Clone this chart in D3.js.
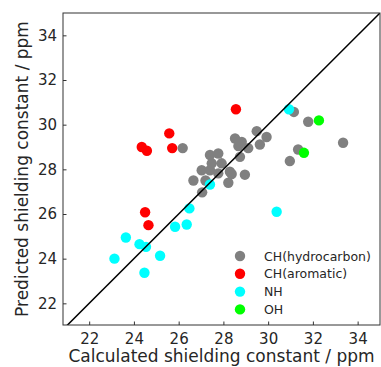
<!DOCTYPE html>
<html><head><meta charset="utf-8">
<script src="https://cdn.jsdelivr.net/npm/d3@7"></script>
<style>body{margin:0;background:#fff}svg{display:block}text{font-family:"DejaVu Sans",sans-serif;fill:#262626}</style>
</head><body>
<svg id="c" width="381" height="367"></svg>
<script>
const xTicks = [22, 24, 26, 28, 30, 32, 34];
const yTicks = [22, 24, 26, 28, 30, 32, 34];
const seriesNames = ["CH(hydrocarbon)", "CH(aromatic)", "NH", "OH"];
const seriesColors = ["#808080", "#ff0000", "#00ffff", "#00ff00"];
const hydrocarbon = [[26.18,28.95],[31.15,30.57],[31.79,30.13],[33.35,29.19],[31.34,28.89],[30.97,28.37],[29.49,29.71],[29.93,29.45],[29.63,29.11],[28.52,29.38],[28.82,29.23],[28.67,29.04],[29.11,28.95],[27.4,28.64],[27.77,28.71],[27.48,28.27],[27.92,28.27],[27.03,27.96],[27.4,27.96],[28.29,27.89],[28.96,27.76],[27.77,27.82],[26.66,27.5],[27.2,27.5],[28.22,27.4],[27.05,26.97],[28.37,27.79],[28.74,28.56]];
const aromatic = [[25.58,29.61],[24.35,29.0],[24.58,28.83],[25.71,28.95],[28.56,30.69],[24.5,26.08],[24.65,25.5]];
const nh = [[30.93,30.69],[27.4,27.32],[26.48,26.25],[25.84,25.43],[26.36,25.53],[23.64,24.95],[24.25,24.65],[24.54,24.53],[25.17,24.13],[23.13,24.0],[24.47,23.37],[30.38,26.1]];
const oh = [[32.27,30.19],[31.6,28.74]];
const series = [hydrocarbon, aromatic, nh, oh];

const svg = d3.select("#c");
const L = 63, R = 380, T = 13, B = 325;
const x = d3.scaleLinear().domain([20.83, 35]).range([L, R]);
const y = d3.scaleLinear().domain([21.03, 35]).range([B, T]);

svg.append("defs").append("clipPath").attr("id","clip").append("rect")
  .attr("x",L).attr("y",T).attr("width",R-L).attr("height",B-T);

const plot = svg.append("g").attr("clip-path","url(#clip)");
series.forEach((s,i)=>{
  plot.selectAll(null).data(s).enter().append("circle")
    .attr("cx",d=>x(d[0])).attr("cy",d=>y(d[1])).attr("r",5.2)
    .attr("fill",seriesColors[i]);
});
plot.append("line").attr("x1",x(20)).attr("y1",y(20)).attr("x2",x(36)).attr("y2",y(36))
  .attr("stroke","#000").attr("stroke-width",1.5);

const xa = svg.append("g").attr("transform",`translate(0,${B})`)
  .call(d3.axisBottom(x).tickValues(xTicks).tickSizeInner(-3.5).tickSizeOuter(0).tickPadding(8));
const ya = svg.append("g").attr("transform",`translate(${L},0)`)
  .call(d3.axisLeft(y).tickValues(yTicks).tickSizeInner(-3.5).tickSizeOuter(0).tickPadding(6));
[xa,ya].forEach(a=>{a.select(".domain").remove();a.selectAll("text").attr("font-size",15).attr("fill","#262626").attr("font-family","DejaVu Sans");a.selectAll("line").attr("stroke","#333")});

svg.append("rect").attr("x",L).attr("y",T).attr("width",R-L).attr("height",B-T)
  .attr("fill","none").attr("stroke","#333").attr("stroke-width",1);

svg.append("text").attr("x",(L+R)/2).attr("y",362).attr("text-anchor","middle")
  .attr("font-size",17).text("Calculated shielding constant / ppm");
svg.append("text").attr("transform",`translate(28,${(T+B)/2}) rotate(-90)`).attr("text-anchor","middle")
  .attr("font-size",17).text("Predicted shielding constant / ppm");

const lg = svg.append("g");
seriesNames.forEach((n,i)=>{
  const yy = 256 + i*17.8;
  lg.append("circle").attr("cx",240).attr("cy",yy).attr("r",5.2).attr("fill",seriesColors[i]);
  lg.append("text").attr("x",264).attr("y",yy+4.5).attr("font-size",12.5).text(n);
});
</script>
</body></html>
